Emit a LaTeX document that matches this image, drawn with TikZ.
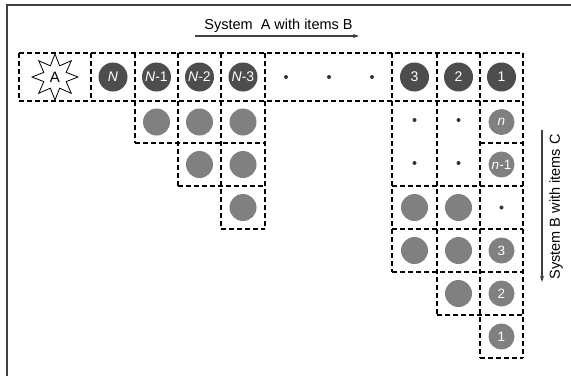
\documentclass[tikz,border=0pt]{standalone}
\usepackage{fontspec}
\setmainfont{Liberation Sans}
\usetikzlibrary{arrows.meta,shapes.geometric}

\definecolor{darkball}{RGB}{77,77,77}
\definecolor{lightball}{RGB}{128,128,128}
\definecolor{framegray}{RGB}{64,64,64}

\tikzset{
  cellline/.style={draw=black, dash pattern=on 5pt off 3pt, line width=1.1pt},
  bigball/.style={circle, fill=darkball, text=white, minimum size=29pt, inner sep=0pt, font=\fontsize{14}{14}\selectfont},
  ball/.style={circle, fill=lightball, minimum size=27pt, inner sep=0pt},
  numball/.style={circle, fill=lightball, text=white, minimum size=26pt, inner sep=0pt, font=\fontsize{13.5}{13.5}\selectfont},
  dotnode/.style={circle, fill=black!80, minimum size=4pt, inner sep=0pt},
  axis/.style={draw=framegray, line width=1.2pt, -{Stealth[length=6pt,width=4pt]}},
  axislabel/.style={inner sep=0pt, font=\fontsize{14.5}{14.5}\selectfont},
}

\begin{document}
\begin{tikzpicture}[x=1pt,y=-1pt]
            \useasboundingbox (0,0) rectangle (571,376);

            % Frame
            \draw[framegray, line width=1.3pt] (7,376) -- (7,5) -- (571,5);

            % Top label and arrow
            \node[axislabel, anchor=base] (toplabel) at (278.5,29) {System~ A with items B};
            \coordinate (tl) at (195,36);
            \coordinate (tr) at (359,36);
            \draw[axis] (tl) -- (tr);

            % Side label and arrow
            \node[axislabel, rotate=90] (sidelabel) at (556,207) {System B with items C};
            \coordinate (vt) at (542,130);
            \coordinate (vb) at (542,282);
            \draw[axis] (vt) -- (vb);

            % Cell lines, horizontal
            \draw[cellline] (19,53) -- (523,53);
            \draw[cellline] (19,101) -- (523,101);
            \draw[cellline] (135,143) -- (265,143);
            \draw[cellline] (480,143) -- (523,143);
            \draw[cellline] (178,186) -- (265,186);
            \draw[cellline] (392,186) -- (523,186);
            \draw[cellline] (221,229) -- (265,229);
            \draw[cellline] (392,229) -- (523,229);
            \draw[cellline] (392,272) -- (523,272);
            \draw[cellline] (437,315) -- (523,315);
            \draw[cellline] (480,358) -- (523,358);

            % Cell lines, vertical
            \draw[cellline] (19,53) -- (19,101);
            \draw[cellline] (91,53) -- (91,101);
            \draw[cellline] (135,53) -- (135,143);
            \draw[cellline] (178,53) -- (178,186);
            \draw[cellline] (221,53) -- (221,229);
            \draw[cellline] (265,53) -- (265,229);
            \draw[cellline] (392,53) -- (392,272);
            \draw[cellline] (437,53) -- (437,315);
            \draw[cellline] (480,53) -- (480,358);
            \draw[cellline] (523,53) -- (523,358);

            % Star
            \node[star, star points=8, star point ratio=1.9, draw=black, line width=0.8pt, fill=white,
                  minimum size=46pt, inner sep=0pt, font=\fontsize{15}{15}\selectfont] (A) at (55,77) {A};

            % Top row
            \node[bigball] (bN) at (113,77) {\textit{N}};
            \node[bigball] (bN1) at (156.5,77) {\textit{N}-1};
            \node[bigball] (bN2) at (199.5,77) {\textit{N}-2};
            \node[bigball] (bN3) at (243,77) {\textit{N}-3};
            \node[dotnode] (d1) at (286,77) {};
            \node[dotnode] (d2) at (329,77) {};
            \node[dotnode] (d3) at (372,77) {};
            \node[bigball] (b3) at (414.5,77) {3};
            \node[bigball] (b2) at (458.5,77) {2};
            \node[bigball] (b1) at (501.5,77) {1};

            % Left block
            \node[ball] (gN1a) at (156.5,122) {};
            \node[ball] (gN2a) at (199.5,122) {};
            \node[ball] (gN3a) at (243,122) {};
            \node[ball] (gN2b) at (199.5,164.5) {};
            \node[ball] (gN3b) at (243,164.5) {};
            \node[ball] (gN3c) at (243,207.5) {};

            % Right block
            \node[dotnode] (e3a) at (414.5,120) {};
            \node[dotnode] (e2a) at (458.5,120) {};
            \node[dotnode] (e3b) at (414.5,163) {};
            \node[dotnode] (e2b) at (458.5,163) {};
            \node[numball] (cn) at (501.5,122) {\textit{n}};
            \node[numball] (cn1) at (501.5,164.5) {\textit{n}-1};
            \node[ball] (g3a) at (414.5,207.5) {};
            \node[ball] (g2a) at (458.5,207.5) {};
            \node[dotnode] (e1) at (501.5,207.5) {};
            \node[ball] (g3b) at (414.5,250.5) {};
            \node[ball] (g2b) at (458.5,250.5) {};
            \node[numball] (c3) at (501.5,250.5) {3};
            \node[ball] (g2c) at (458.5,293.5) {};
            \node[numball] (c2) at (501.5,293.5) {2};
            \node[numball] (c1) at (501.5,336.5) {1};
\end{tikzpicture}
\end{document}
